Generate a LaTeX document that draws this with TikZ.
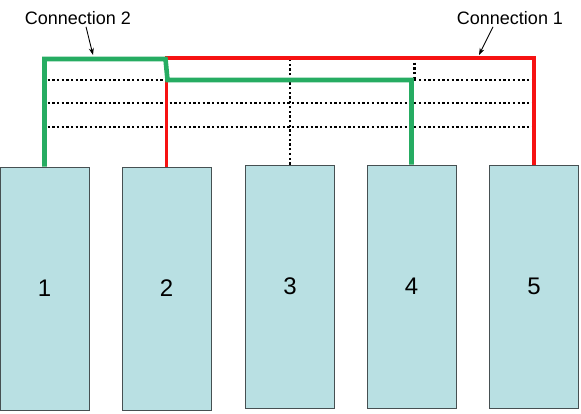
\documentclass[tikz,border=0pt]{standalone}
\usepackage{fontspec}
\setmainfont{Liberation Sans}
\usepackage{tikz}
\usetikzlibrary{arrows.meta}

\definecolor{boxfill}{RGB}{185,224,227}
\definecolor{boxline}{RGB}{70,80,82}
\definecolor{wiregreen}{RGB}{38,172,98}
\definecolor{wirered}{RGB}{246,18,18}

\tikzset{
  unit/.style={shape=rectangle, draw=boxline, fill=boxfill, line width=0.9pt,
    minimum width=89pt, minimum height=243pt, inner sep=0pt,
    font=\fontsize{24}{26}\selectfont},
  bus/.style={line width=2.3pt, dash pattern=on 2.3pt off 2.4pt},
  conn1/.style={draw=wirered, line width=3.6pt},
  conn2/.style={draw=wiregreen, line width=4.6pt},
  lbl/.style={font=\fontsize{18}{20}\selectfont, inner sep=2pt},
  pointer/.style={-{Stealth[length=7pt,width=5pt]}, line width=0.9pt}
}

\begin{document}
\begin{tikzpicture}[x=1pt, y=-1pt]
        \useasboundingbox (0,0) rectangle (581,413);

        \node[unit] (B1) at (44.5,288.5) {1};
        \node[unit] (B2) at (166.5,288.5) {2};
        \node[unit] (B3) at (290,286.5) {3};
        \node[unit] (B4) at (411.5,286.5) {4};
        \node[unit] (B5) at (534,286.5) {5};

        \coordinate (rtop) at (0,58);
        \coordinate (gtop) at (0,59);
        \coordinate (glow) at (0,80);

        \foreach \y in {80,103,127}
            \draw[bus] ([xshift=3pt]B1.north |- 0,\y) -- (B5.north |- 0,\y);
        \draw[bus] (B3.north) -- (B3.north |- rtop);
        \draw[bus] ([xshift=3pt]B4.north |- rtop) -- ([xshift=3pt]B4.north |- glow);

        \draw[conn1] (B2.north) -- (B2.north |- rtop) -- (B5.north |- rtop) -- (B5.north);
        \draw[conn2] (B1.north) -- (B1.north |- gtop) -- ([xshift=-1pt]B2.north |- gtop)
            -- ([xshift=1pt]B2.north |- glow) -- (B4.north |- glow) -- (B4.north);

        \node[lbl] (C2) at (78,18) {Connection 2};
        \node[lbl] (C1) at (510,18) {Connection 1};
        \coordinate (p2) at (93,55);
        \coordinate (p1) at (479,55);
        \draw[pointer] ([xshift=8pt]C2.south) -- (p2);
        \draw[pointer] ([xshift=-17pt]C1.south) -- (p1);
\end{tikzpicture}
\end{document}
